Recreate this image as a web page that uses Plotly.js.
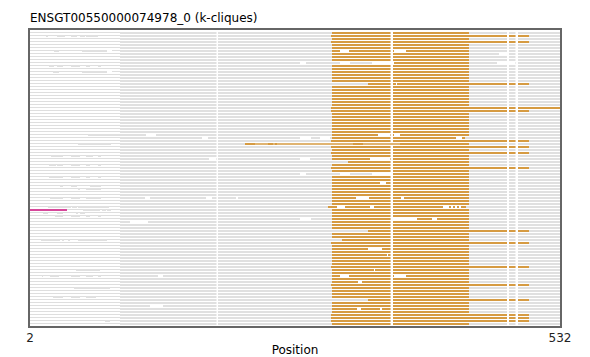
<!DOCTYPE html>
<html><head><meta charset="utf-8">
<script src="https://cdn.plot.ly/plotly-3.0.1.min.js"></script>
<style>html,body{margin:0;padding:0;background:#fff}</style>
</head><body><div id="chart" style="width:590px;height:357px"></div>
<script>
const chartTitle = 'ENSGT00550000074978_0 (k-cliques)';
const xTitle = 'Position';
const xTickVals = [2, 532];
const xTickText = ['2', '532'];
const rowCount = 99;
const seqStart = 2;
const seqEnd = 532;
const thinEnd = 92;
// gaps (alignment columns) shared by every row
const commonGaps = [[188.5, 190], [362.5, 365], [479, 481], [487.5, 490]];
// k-clique (orange) span per row
const orangeStart = [
  304,303,304,303,304,304,304,304,304,304,
  366,304,304,304,304,304,304,340,304,304,
  304,304,304,304,304,303,303,304,304,304,
  304,304,304,304,304,304,303,372,303,304,
  303,304,304,320,304,303,304,365,304,304,
  304,304,304,304,304,304,304,304,300,304,
  304,304,304,304,304,304,340,304,304,314,
  303,304,304,304,304,304,304,304,303,304,
  304,304,304,304,303,304,304,304,304,340,
  304,304,304,304,303,303,303,304,304
];
const orangeEnd = [
  441,501,441,501,441,441,441,441,441,441,
  441,441,441,441,441,441,441,501,441,441,
  441,441,441,441,441,532,501,441,441,441,
  441,441,441,441,441,437,501,441,501,441,
  501,441,441,441,441,501,441,441,441,441,
  441,441,441,441,441,441,441,441,438,441,
  441,441,441,441,441,441,501,441,441,441,
  501,441,441,441,441,441,441,441,501,441,
  441,441,441,441,501,441,441,441,441,501,
  441,441,441,441,501,501,501,441,345
];
// extra orange pieces [row, from, to]
const extraOrange = [[37,217,227],[37,240,245],[37,247,249],[37,325,335],[98,445,455]];
// thin orange link [row, from, to]
const thinOrange = [[37, 217, 372]];
// white gaps inside orange spans [row, from, to]
const orangeGaps = [
  [6,312,321],[6,366,378],[17,368,369],[34,350,362],[34,366,372],[35,428,434],
  [42,342,362],[50,352,358],[55,328,341],[55,373,376],
  [58,309,317],[58,342,346],[58,415,421],[58,423,425],[58,427,429],[58,431,433],
  [62,365,389],[62,404,409],[72,340,354],[74,359,360],[79,346,347],
  [81,312,321],[81,366,378],[83,330,334],[92,329,333],[92,352,354]
];
// white gaps in grey rows [row, from, to]
const greyGaps = [
  [6,79,84],[13,79,84],[7,471,479],[10,272,278],[10,312,322],[10,344,366],[10,469,479],[10,481,487],
  [34,118,128],[35,174,180],[35,272,283],[35,292,302],[37,217,372],[42,181,188],[42,272,282],
  [47,272,278],[47,312,322],[47,344,365],[55,117,122],[55,178,184],[55,208,210],
  [62,272,283],[63,102,120],[81,130,135],[91,122,135]
];
// full-thickness grey pieces in the thin left part [row, from, to]
const leftBlocks = [
  [1,18,20],[1,29,37],[1,43,49],[1,52,57],[1,58,70],
  [6,26,31],[6,54,79],[11,21,26],[11,29,35],[11,43,52],[11,58,62],[11,70,73],
  [13,25,31],[13,54,79],[34,60,92],[37,50,83],
  [41,23,35],[41,43,52],[41,58,65],[41,70,73],
  [44,21,28],[44,29,35],[44,43,52],[44,58,62],[44,70,73],
  [48,21,35],[48,43,52],[48,58,62],[48,70,73],
  [51,32,35],[51,43,49],[51,62,73],[52,50,52],[52,58,73],
  [55,22,35],[55,43,52],[55,58,73],[58,20,43],[58,44,49],[58,50,81],
  [59,55,72],[59,74,78],[59,79,83],
  [60,15,20],[60,29,35],[60,48,50],[60,52,57],
  [61,27,35],[61,43,52],[61,58,62],[61,70,73],
  [69,13,32],[69,34,36],[69,40,42],[69,50,79],
  [79,48,72],[81,14,15],[81,22,31],[81,43,52],[81,58,65],[81,70,73],
  [85,46,82],[88,25,35],[88,43,52],[88,58,68],[96,77,82]
];
// magenta piece [row, from, to]
const pinkSegs = [[59, 2, 39]];

const colGrey = '#e0e0e0', colThin = '#dedede', colOrange = '#d69b42', colPink = '#d6479a';
const thinShift = 1 / 6; // half-pixel shift so 1px grey lines render crisply

function subtract(segs, gaps) {
  let out = segs.slice();
  gaps.forEach(([a, b]) => {
    const next = [];
    out.forEach(([s, e]) => {
      if (b <= s || a >= e) { next.push([s, e]); return; }
      if (a > s) next.push([s, a]);
      if (b < e) next.push([b, e]);
    });
    out = next;
  });
  return out;
}
const forRow = (list, r) => list.filter(g => g[0] === r).map(g => [g[1], g[2]]);
function add(buf, segs, y) { segs.forEach(([s, e]) => { buf.x.push(s, e, null); buf.y.push(y, y, null); }); }

const thinG = {x: [], y: []}, thickG = {x: [], y: []}, orng = {x: [], y: []}, thinO = {x: [], y: []}, pink = {x: [], y: []};
for (let r = 0; r < rowCount; r++) {
  const gg = forRow(greyGaps, r), og = forRow(orangeGaps, r), pk = forRow(pinkSegs, r);
  add(thinG, subtract([[seqStart, thinEnd]], gg.concat(pk)), r - thinShift);
  const thickSegs = [[thinEnd, seqEnd]].concat(forRow(leftBlocks, r));
  add(thickG, subtract(thickSegs, commonGaps.concat(gg, og, pk)), r);
  const oSegs = [[orangeStart[r], orangeEnd[r]]].concat(forRow(extraOrange, r));
  add(orng, subtract(oSegs, commonGaps.concat(og)), r);
  add(thinO, forRow(thinOrange, r), r);
  add(pink, pk, r);
}
const mk = (b, color, w) => ({x: b.x, y: b.y, type: 'scatter', mode: 'lines', line: {color, width: w}, hoverinfo: 'skip', showlegend: false, connectgaps: false});
const data = [mk(thinG, colThin, 1), mk(thickG, colGrey, 2), mk(thinO, colOrange, 1.5), mk(orng, colOrange, 2), mk(pink, colPink, 2)];

const layout = {
  width: 590, height: 357,
  margin: {l: 30, r: 30, t: 30, b: 31, pad: 0},
  paper_bgcolor: '#fff', plot_bgcolor: '#fff',
  font: {family: 'DejaVu Sans', size: 12, color: '#000'},
  title: {text: chartTitle, x: 0, xref: 'paper', xanchor: 'left', y: 1 - 18 / 357, yref: 'container', yanchor: 'middle', font: {family: 'DejaVu Sans', size: 12, color: '#000'}},
  xaxis: {range: [seqStart, seqEnd], tickvals: xTickVals, ticktext: xTickText, ticks: '', showgrid: false, zeroline: false,
          showline: true, mirror: true, linecolor: '#666', linewidth: 2,
          title: {text: xTitle, font: {size: 12}, standoff: 8}, tickfont: {size: 12, color: '#222'}},
  yaxis: {range: [rowCount - 1 - 0.333, -1], showticklabels: false, ticks: '', showgrid: false, zeroline: false,
          showline: true, mirror: true, linecolor: '#666', linewidth: 2}
};
Plotly.newPlot('chart', data, layout, {staticPlot: true, displayModeBar: false});
</script></body></html>
